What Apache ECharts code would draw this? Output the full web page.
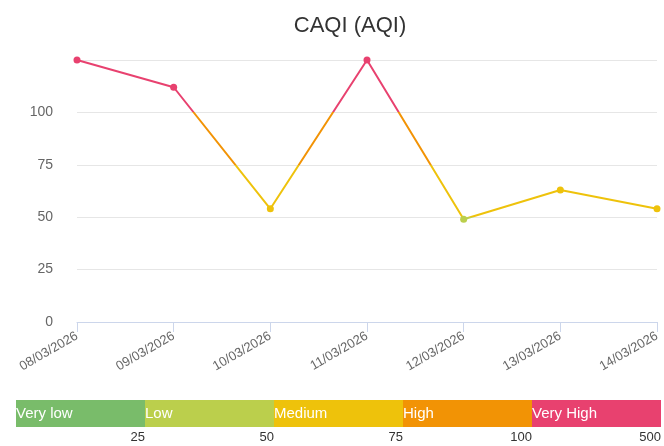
<!DOCTYPE html>
<html>
<head>
<meta charset="utf-8">
<script src="https://cdn.jsdelivr.net/npm/echarts@6/dist/echarts.min.js"></script>
<style>
  html, body { margin: 0; padding: 0; background: #fff; }
  #chart { width: 664px; height: 446px; }
</style>
</head>
<body>
<div id="chart"></div>
<script>
// data
var categories = ["08/03/2026", "09/03/2026", "10/03/2026", "11/03/2026", "12/03/2026", "13/03/2026", "14/03/2026"];
var aqiValues = [125, 112, 54, 125, 49, 63, 54];
var bandNames = ["Very low", "Low", "Medium", "High", "Very High"];
var bandColors = ["#79bc6a", "#bbcf4c", "#eec20b", "#f29305", "#e8416f"];
var bandLimits = ["", "25", "50", "75", "100", "500"];
var yTicks = [0, 25, 50, 75, 100];

var chart = echarts.init(document.getElementById("chart"));

// the colour bar under the chart is a stacked bar, one piece per band
var bandSeries = bandNames.map(function (name, i) {
  return {
    name: name,
    type: "bar",
    stack: "bands",
    xAxisIndex: 1,
    yAxisIndex: 1,
    barWidth: "100%",
    silent: true,
    itemStyle: { color: bandColors[i] },
    label: {
      show: true,
      position: "insideLeft",
      distance: 0,
      formatter: name,
      color: "#fff",
      fontSize: 15,
      fontFamily: "Liberation Sans"
    },
    data: [1]
  };
});

chart.setOption({
  animation: false,
  title: {
    text: "CAQI (AQI)",
    left: 345,
    textAlign: "center",
    top: 10,
    textStyle: { fontSize: 22, fontWeight: "normal", color: "#333", fontFamily: "Liberation Sans" }
  },
  visualMap: {
    type: "piecewise",
    show: false,
    seriesIndex: 0,
    pieces: [
      { lt: 25, color: bandColors[0] },
      { gte: 25, lt: 50, color: bandColors[1] },
      { gte: 50, lt: 75, color: bandColors[2] },
      { gte: 75, lt: 100, color: bandColors[3] },
      { gte: 100, color: bandColors[4] }
    ]
  },
  grid: [
    { left: 77, right: 7, top: 60, height: 262 },
    { left: 16, right: 1, top: 400, height: 27 }
  ],
  xAxis: [
    {
      type: "category",
      gridIndex: 0,
      data: categories,
      boundaryGap: false,
      axisLine: { lineStyle: { color: "#ccd6eb" } },
      axisTick: { show: true, length: 10, lineStyle: { color: "#ccd6eb" } },
      axisLabel: { rotate: 30, color: "#666", fontSize: 13, fontFamily: "Liberation Sans", margin: 13 }
    },
    {
      type: "value",
      gridIndex: 1,
      min: 0,
      max: 5,
      interval: 1,
      axisLine: { show: false },
      axisTick: { show: false },
      splitLine: { show: false },
      axisLabel: {
        color: "#333",
        fontSize: 13,
        fontFamily: "Liberation Sans",
        align: "right",
        margin: 4,
        formatter: function (v) { return bandLimits[v] || ""; }
      }
    }
  ],
  yAxis: [
    {
      type: "value",
      gridIndex: 0,
      min: 0,
      max: 125,
      interval: 25,
      axisLine: { show: false },
      axisTick: { show: false },
      splitLine: { lineStyle: { color: "#e6e6e6" } },
      axisLabel: {
        color: "#666",
        fontSize: 14,
        fontFamily: "Liberation Sans",
        margin: 24,
        formatter: function (v) { return yTicks.indexOf(v) >= 0 ? String(v) : ""; }
      }
    },
    {
      type: "category",
      gridIndex: 1,
      data: ["band"],
      show: false
    }
  ],
  series: [
    {
      name: "CAQI",
      type: "line",
      data: aqiValues,
      symbol: "circle",
      symbolSize: 7,
      lineStyle: { width: 2 }
    }
  ].concat(bandSeries)
});
</script>
</body>
</html>
